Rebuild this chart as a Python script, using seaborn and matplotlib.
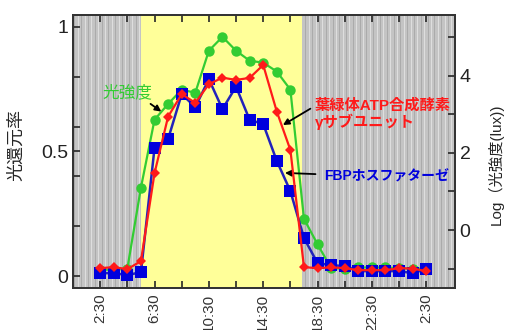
import numpy as np
import pandas as pd
import matplotlib
matplotlib.use("Agg")
import matplotlib.pyplot as plt
import seaborn as sns

# ---- data ----
hours = [2.5 + i for i in range(25)]
tick_hours = [2.5, 6.5, 10.5, 14.5, 18.5, 22.5, 26.5]
tick_labels = ["2:30", "6:30", "10:30", "14:30", "18:30", "22:30", "2:30"]
atp_gamma = [0.032, 0.036, 0.028, 0.06, 0.413, 0.64, 0.73, 0.695, 0.77, 0.796, 0.787,
             0.795, 0.847, 0.66, 0.506, 0.036, 0.032, 0.035, 0.032, 0.024, 0.024,
             0.024, 0.032, 0.03, 0.02]
fbpase = [0.012, 0.012, 0.004, 0.016, 0.514, 0.55, 0.73, 0.678, 0.79, 0.67, 0.76,
          0.627, 0.61, 0.462, 0.341, 0.153, 0.052, 0.044, 0.04, 0.02, 0.02, 0.02,
          0.02, 0.012, 0.028]
light_log = [-1.03, -1.03, -1.0, 1.10, 2.86, 3.27, 3.64, 3.56, 4.65, 5.01, 4.65,
             4.39, 4.34, 4.11, 3.64, 0.29, -0.37, -0.99, -1.0, -0.97, -0.97, -0.97,
             -0.99, -1.0, -1.0]
day_start, day_end = 5.5, 17.35

df = pd.DataFrame({"hour": hours, "atp": atp_gamma, "fbp": fbpase, "light": light_log})

sns.set_style("ticks")
plt.rcParams["font.family"] = ["Liberation Sans", "Noto Sans CJK JP", "DejaVu Sans"]

fig = plt.figure(figsize=(5.07, 3.30), dpi=100)
ax = fig.add_axes([0.144, 0.127, 0.753, 0.828])
ax2 = ax.twinx()
ax.set_zorder(ax2.get_zorder() + 1)
ax.patch.set_visible(False)

xmin, xmax = 0.5, 28.6
# background on ax2 (lower layer)
ax2.axvspan(xmin, day_start, color="#c4c4c4", lw=0, zorder=0)
ax2.axvspan(day_end, xmax, color="#c4c4c4", lw=0, zorder=0)
ax2.axvspan(day_start, day_end, color="#ffff99", lw=0, zorder=0)
stripes = np.arange(xmin + 0.1, xmax, 0.25)
for i, s in enumerate(stripes):
    if day_start <= s <= day_end:
        continue
    col = "#a4a4a4" if i % 2 == 0 else "#e6e6e6"
    ax2.axvline(s, color=col, lw=0.55, zorder=0.5)

green = "#33cc33"
red = "#ff1a1a"
blue = "#0000dd"

sns.lineplot(data=df, x="hour", y="light", ax=ax2, color=green, marker="o",
             markersize=7.5, markeredgewidth=0, lw=1.6, zorder=2)
sns.lineplot(data=df, x="hour", y="fbp", ax=ax, color="#2222bb", marker="s",
             markersize=8, markerfacecolor=blue, markeredgewidth=0, lw=1.8, zorder=3)
sns.lineplot(data=df, x="hour", y="atp", ax=ax, color=red, marker="D",
             markersize=5.5, markeredgewidth=0, lw=1.6, zorder=4)

ax.set_xlim(xmin, xmax)
ax.set_ylim(-0.048, 1.048)
ax2.set_ylim(-1.505, 5.58)

xt = np.arange(2.5, 27, 2)
ax.set_xticks(xt)
lab = [tick_labels[tick_hours.index(h)] if h in tick_hours else "" for h in xt]
ax.set_xticklabels(lab, rotation=90, fontsize=11, color="#333333", va="top")

ax.set_yticks([0, 0.5, 1])
ax.set_yticklabels(["0", "0.5", "1"], fontsize=14, color="#222222")
ax.set_yticks([0.2, 0.4, 0.6, 0.8], minor=True)
ax2.set_yticks([-1, 0, 1, 2, 3, 4, 5])
ax2.set_yticklabels(["", "0", "", "2", "", "4", ""], fontsize=14, color="#222222")

ax.tick_params(axis="both", which="both", direction="in", top=True, length=5, width=1.2)
ax.tick_params(axis="y", which="both", right=False)
ax.tick_params(axis="x", pad=4)
ax2.tick_params(axis="y", direction="in", length=5, width=1.2)

ax.set_xlabel("")
ax.set_ylabel("光還元率", fontsize=13)
ax.yaxis.set_label_coords(-0.126, 0.524)
ax2.set_ylabel("Log（光強度(lux))", fontsize=11)
ax2.yaxis.set_label_coords(1.086, 0.454)

for a in (ax, ax2):
    for sp in a.spines.values():
        sp.set_linewidth(1.3)
        sp.set_color("#333333")
        sp.set_visible(True)

# annotations
ax.annotate("光強度", xy=(7.0, 0.66), xytext=(4.5, 0.739), textcoords="data",
            color=green, fontsize=12, ha="center", va="center",
            arrowprops=dict(arrowstyle="-|>", color="black", lw=1.3, mutation_scale=9,
                            shrinkA=1, shrinkB=0, relpos=(0.85, 0.0)))
ax.annotate("葉緑体ATP合成酵素\nγサブユニット", xy=(15.95, 0.606), xytext=(18.3, 0.65),
            color=red, fontsize=11, fontweight="bold", ha="left", va="center",
            linespacing=1.1,
            arrowprops=dict(arrowstyle="-|>", color="black", lw=1.3, mutation_scale=9,
                            shrinkA=1, shrinkB=0, relpos=(0, 0.75)))
ax.annotate("FBPホスファターゼ", xy=(16.1, 0.414), xytext=(19.0, 0.398),
            color=blue, fontsize=10, fontweight="bold", ha="left", va="center",
            arrowprops=dict(arrowstyle="-|>", color="black", lw=1.3, mutation_scale=9,
                            shrinkA=4, shrinkB=0))

fig.savefig("out.png", dpi=100)
